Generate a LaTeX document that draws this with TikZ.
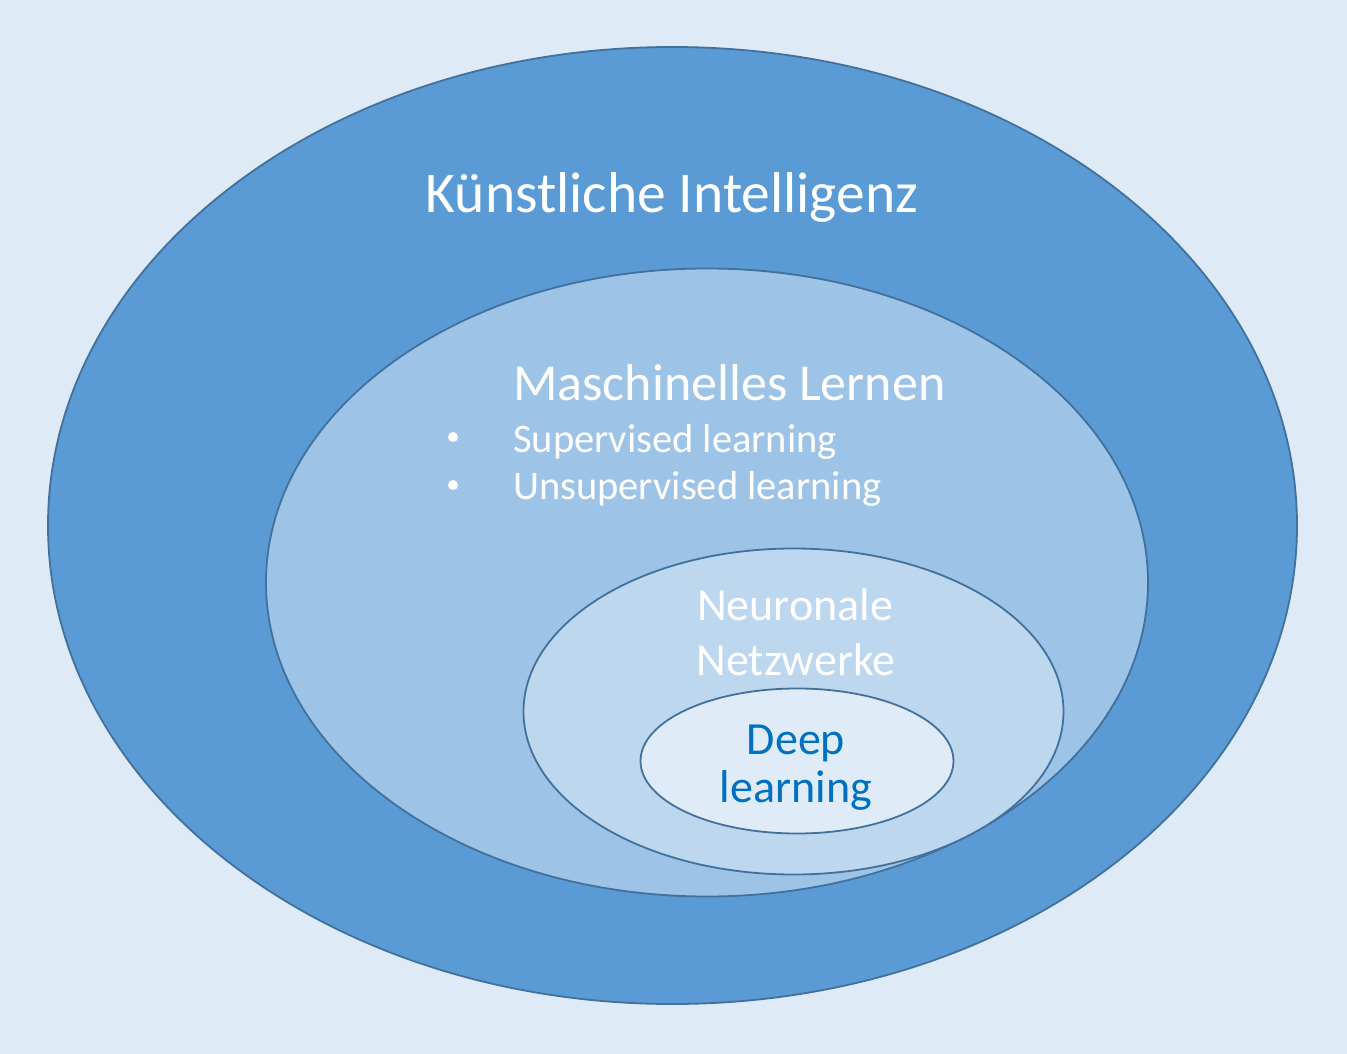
\documentclass[tikz,border=0pt]{standalone}
\usepackage{fontspec}
\setmainfont{Carlito}
\usetikzlibrary{shapes.geometric}
\definecolor{bgc}{HTML}{DEEBF7}
\definecolor{kic}{HTML}{5B9BD5}
\definecolor{mlc}{HTML}{9DC3E6}
\definecolor{nnc}{HTML}{BDD7EE}
\definecolor{dlc}{HTML}{DFECF8}
\definecolor{edgec}{HTML}{41719C}
\definecolor{dltext}{HTML}{0070C0}
\tikzset{
  set/.style={ellipse, draw=edgec, line width=1.8pt, inner sep=0pt},
  lbl/.style={text=white, anchor=base, inner sep=0pt},
}
\begin{document}
\begin{tikzpicture}[x=1pt,y=-1pt]
\fill[bgc] (0,0) rectangle (1347,1054);
\useasboundingbox (0,0) rectangle (1347,1054);
\node[set, fill=kic, minimum width=1249pt, minimum height=957pt] (ki) at (672.5,525.5) {};
\node[set, fill=mlc, minimum width=882pt, minimum height=628pt] (ml) at (707,582.5) {};
\node[set, fill=nnc, minimum width=540pt, minimum height=326pt] (nn) at (793.5,711.5) {};
\node[set, fill=dlc, minimum width=313pt, minimum height=145pt] (dl) at (797,761) {};
\node[lbl, font=\fontsize{57.5}{66}\selectfont] (kitext) at (672,212) {Künstliche Intelligenz};
\node[lbl, anchor=base west, font=\fontsize{52}{60}\selectfont] (mltext) at (513,400) {Maschinelles Lernen};
\node[lbl, anchor=base west, font=\fontsize{40.5}{46}\selectfont] (sup) at (513,452) {Supervised learning};
\node[lbl, anchor=base west, font=\fontsize{40.5}{46}\selectfont] (unsup) at (513,499) {Unsupervised learning};
\fill[white] (453,437) circle (5pt) coordinate (b1);
\fill[white] (453,485) circle (5pt) coordinate (b2);
\node[lbl, font=\fontsize{46}{52}\selectfont] (nn1) at (795,620) {Neuronale};
\node[lbl, font=\fontsize{46}{52}\selectfont] (nn2) at (796,675) {Netzwerke};
\node[lbl, text=dltext, font=\fontsize{46}{52}\selectfont] (dl1) at (796,754) {Deep};
\node[lbl, text=dltext, font=\fontsize{46}{52}\selectfont] (dl2) at (796,802) {learning};
\end{tikzpicture}
\end{document}
